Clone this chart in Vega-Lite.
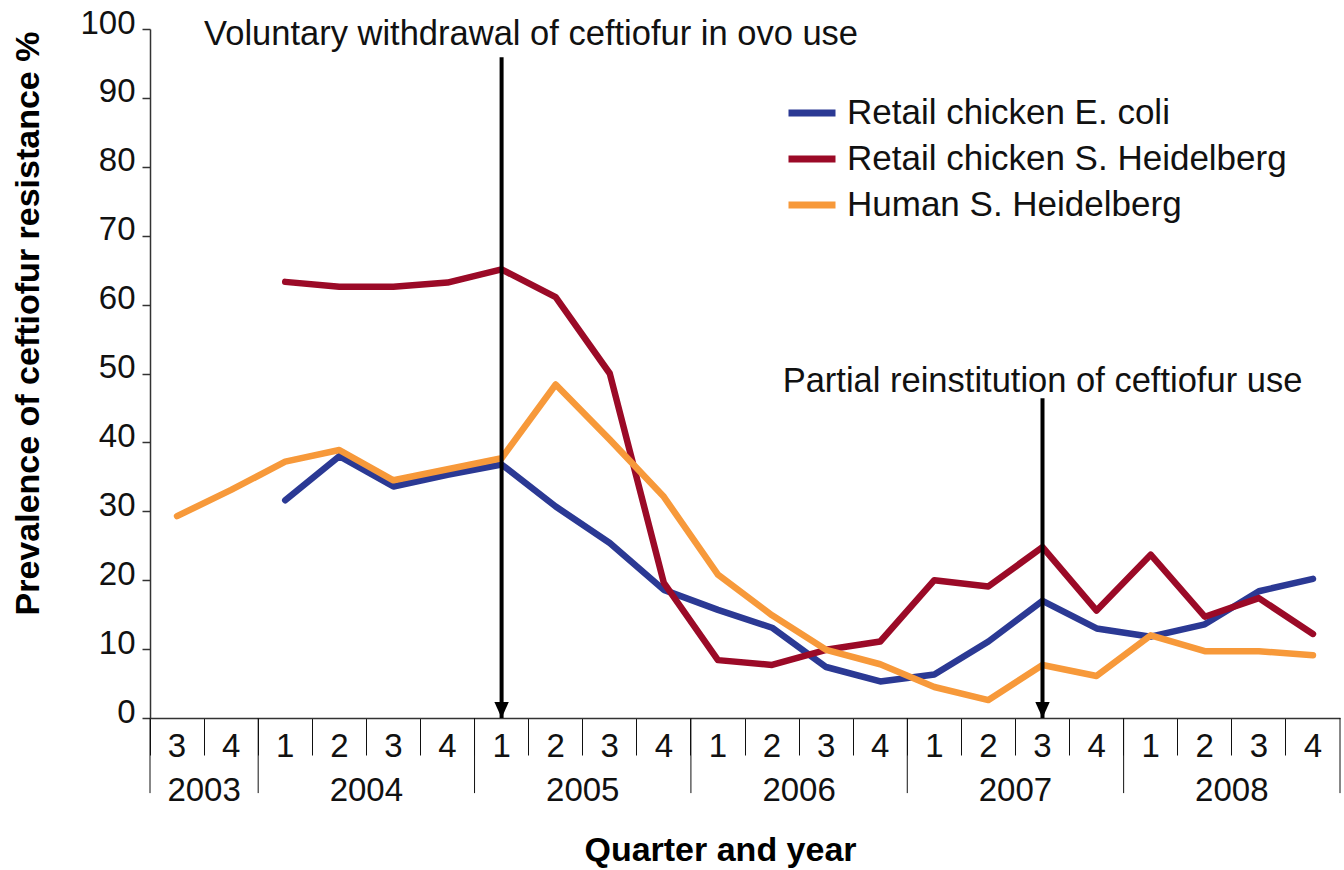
{
  "$schema": "https://vega.github.io/schema/vega-lite/v6.json",
  "width": 1190,
  "height": 689,
  "autosize": {"type": "none"},
  "padding": {"left": 150, "top": 29, "right": 4, "bottom": 152},
  "background": "white",
  "config": {"view": {"stroke": null}, "font": "Liberation Sans", "text": {"font": "Liberation Sans"}},
  "datasets": {
    "series": [
      {"q": "2004-1", "series": "Retail chicken E. coli", "value": 31.6},
      {"q": "2004-2", "series": "Retail chicken E. coli", "value": 38.0},
      {"q": "2004-3", "series": "Retail chicken E. coli", "value": 33.6},
      {"q": "2004-4", "series": "Retail chicken E. coli", "value": 35.3},
      {"q": "2005-1", "series": "Retail chicken E. coli", "value": 36.8},
      {"q": "2005-2", "series": "Retail chicken E. coli", "value": 30.7},
      {"q": "2005-3", "series": "Retail chicken E. coli", "value": 25.4},
      {"q": "2005-4", "series": "Retail chicken E. coli", "value": 18.6},
      {"q": "2006-1", "series": "Retail chicken E. coli", "value": 15.7},
      {"q": "2006-2", "series": "Retail chicken E. coli", "value": 13.1},
      {"q": "2006-3", "series": "Retail chicken E. coli", "value": 7.4},
      {"q": "2006-4", "series": "Retail chicken E. coli", "value": 5.3},
      {"q": "2007-1", "series": "Retail chicken E. coli", "value": 6.3},
      {"q": "2007-2", "series": "Retail chicken E. coli", "value": 11.1},
      {"q": "2007-3", "series": "Retail chicken E. coli", "value": 17.0},
      {"q": "2007-4", "series": "Retail chicken E. coli", "value": 13.0},
      {"q": "2008-1", "series": "Retail chicken E. coli", "value": 11.8},
      {"q": "2008-2", "series": "Retail chicken E. coli", "value": 13.6},
      {"q": "2008-3", "series": "Retail chicken E. coli", "value": 18.4},
      {"q": "2008-4", "series": "Retail chicken E. coli", "value": 20.2},
      {"q": "2004-1", "series": "Retail chicken S. Heidelberg", "value": 63.3},
      {"q": "2004-2", "series": "Retail chicken S. Heidelberg", "value": 62.6},
      {"q": "2004-3", "series": "Retail chicken S. Heidelberg", "value": 62.6},
      {"q": "2004-4", "series": "Retail chicken S. Heidelberg", "value": 63.2},
      {"q": "2005-1", "series": "Retail chicken S. Heidelberg", "value": 65.1},
      {"q": "2005-2", "series": "Retail chicken S. Heidelberg", "value": 61.1},
      {"q": "2005-3", "series": "Retail chicken S. Heidelberg", "value": 50.0},
      {"q": "2005-4", "series": "Retail chicken S. Heidelberg", "value": 19.6},
      {"q": "2006-1", "series": "Retail chicken S. Heidelberg", "value": 8.4},
      {"q": "2006-2", "series": "Retail chicken S. Heidelberg", "value": 7.7},
      {"q": "2006-3", "series": "Retail chicken S. Heidelberg", "value": 9.9},
      {"q": "2006-4", "series": "Retail chicken S. Heidelberg", "value": 11.1},
      {"q": "2007-1", "series": "Retail chicken S. Heidelberg", "value": 20.0},
      {"q": "2007-2", "series": "Retail chicken S. Heidelberg", "value": 19.1},
      {"q": "2007-3", "series": "Retail chicken S. Heidelberg", "value": 24.8},
      {"q": "2007-4", "series": "Retail chicken S. Heidelberg", "value": 15.6},
      {"q": "2008-1", "series": "Retail chicken S. Heidelberg", "value": 23.7},
      {"q": "2008-2", "series": "Retail chicken S. Heidelberg", "value": 14.7},
      {"q": "2008-3", "series": "Retail chicken S. Heidelberg", "value": 17.4},
      {"q": "2008-4", "series": "Retail chicken S. Heidelberg", "value": 12.2},
      {"q": "2003-3", "series": "Human S. Heidelberg", "value": 29.3},
      {"q": "2003-4", "series": "Human S. Heidelberg", "value": 33.1},
      {"q": "2004-1", "series": "Human S. Heidelberg", "value": 37.2},
      {"q": "2004-2", "series": "Human S. Heidelberg", "value": 38.9},
      {"q": "2004-3", "series": "Human S. Heidelberg", "value": 34.5},
      {"q": "2004-4", "series": "Human S. Heidelberg", "value": 36.1},
      {"q": "2005-1", "series": "Human S. Heidelberg", "value": 37.7},
      {"q": "2005-2", "series": "Human S. Heidelberg", "value": 48.4},
      {"q": "2005-3", "series": "Human S. Heidelberg", "value": 40.4},
      {"q": "2005-4", "series": "Human S. Heidelberg", "value": 32.1},
      {"q": "2006-1", "series": "Human S. Heidelberg", "value": 20.8},
      {"q": "2006-2", "series": "Human S. Heidelberg", "value": 14.9},
      {"q": "2006-3", "series": "Human S. Heidelberg", "value": 9.9},
      {"q": "2006-4", "series": "Human S. Heidelberg", "value": 7.8},
      {"q": "2007-1", "series": "Human S. Heidelberg", "value": 4.5},
      {"q": "2007-2", "series": "Human S. Heidelberg", "value": 2.6},
      {"q": "2007-3", "series": "Human S. Heidelberg", "value": 7.7},
      {"q": "2007-4", "series": "Human S. Heidelberg", "value": 6.1},
      {"q": "2008-1", "series": "Human S. Heidelberg", "value": 12.0},
      {"q": "2008-2", "series": "Human S. Heidelberg", "value": 9.7},
      {"q": "2008-3", "series": "Human S. Heidelberg", "value": 9.7},
      {"q": "2008-4", "series": "Human S. Heidelberg", "value": 9.1}
    ],
    "yearLabels": [
      {"q": "2003-4", "year": "2003"},
      {"q": "2004-3", "year": "2004"},
      {"q": "2005-3", "year": "2005"},
      {"q": "2006-3", "year": "2006"},
      {"q": "2007-3", "year": "2007"},
      {"q": "2008-3", "year": "2008"}
    ],
    "yearStarts": [
      {"q": "2003-3"}, {"q": "2004-1"}, {"q": "2005-1"}, {"q": "2006-1"}, {"q": "2007-1"}, {"q": "2008-1"}
    ],
    "yearEnd": [{"q": "2008-4"}],
    "arrows": [
      {"q": "2005-1", "top": 95.9, "bottom": 0},
      {"q": "2007-3", "top": 46.4, "bottom": 0}
    ],
    "note1": [{"q": "2003-4", "value": 99.1, "label": "Voluntary withdrawal of ceftiofur in ovo use"}],
    "note2": [{"q": "2007-3", "value": 48.8, "label": "Partial reinstitution of ceftiofur use"}]
  },
  "layer": [
    {
      "data": {"name": "series"},
      "mark": {"type": "line", "strokeWidth": 6.5, "strokeJoin": "round", "strokeCap": "round"},
      "encoding": {
        "x": {
          "field": "q", "type": "ordinal", "bandPosition": 0.5,
          "scale": {"type": "band", "paddingInner": 0, "paddingOuter": 0, "domain": ["2003-3","2003-4","2004-1","2004-2","2004-3","2004-4","2005-1","2005-2","2005-3","2005-4","2006-1","2006-2","2006-3","2006-4","2007-1","2007-2","2007-3","2007-4","2008-1","2008-2","2008-3","2008-4"]},
          "axis": {
            "title": "Quarter and year",
            "labelExpr": "split(datum.value, '-')[1]",
            "labelAngle": 0,
            "bandPosition": 0,
            "tickSize": 37,
            "tickColor": "#111",
            "tickWidth": 1,
            "labelOffset": 0,
            "labelPadding": -9,
            "labelBaseline": "middle",
            "labelAlign": "center",
            "labelFontSize": 33,
            "labelColor": "#111",
            "labelOverlap": false,
            "domainColor": "#333",
            "domainWidth": 1.5,
            "titleFontSize": 34,
            "titleFontWeight": "bold",
            "titleColor": "#000",
            "titleX": 570,
            "titleY": 132,
            "titleBaseline": "middle",
            "titleAnchor": "middle"
          }
        },
        "y": {
          "field": "value", "type": "quantitative",
          "scale": {"domain": [0, 100], "nice": false, "zero": true},
          "axis": {
            "title": "Prevalence of ceftiofur resistance %",
            "values": [0, 10, 20, 30, 40, 50, 60, 70, 80, 90, 100],
            "grid": false,
            "tickSize": 8,
            "tickColor": "#333",
            "tickWidth": 1.5,
            "domainColor": "#333",
            "domainWidth": 1.5,
            "labelFontSize": 33,
            "labelColor": "#111",
            "labelPadding": 7,
            "labelOffset": -6,
            "labelOverlap": false,
            "titleFontSize": 34,
            "titleFontWeight": "bold",
            "titleColor": "#000",
            "titleX": -122,
            "titleY": 294,
            "titleBaseline": "middle",
            "titleAlign": "center"
          }
        },
        "color": {
          "field": "series", "type": "nominal",
          "scale": {
            "domain": ["Retail chicken E. coli", "Retail chicken S. Heidelberg", "Human S. Heidelberg"],
            "range": ["#2b3994", "#9b0a27", "#f7993a"]
          },
          "legend": {
            "orient": "none",
            "legendX": 635,
            "legendY": 57,
            "title": null,
            "padding": 0,
            "symbolType": "stroke",
            "symbolSize": 2209,
            "symbolStrokeWidth": 7,
            "labelFontSize": 35,
            "labelColor": "#111",
            "labelOffset": 8,
            "labelLimit": 0,
            "rowPadding": 1
          }
        }
      }
    },
    {
      "data": {"name": "arrows"},
      "mark": {"type": "rule", "strokeWidth": 4, "color": "#000"},
      "encoding": {
        "x": {"field": "q", "type": "ordinal", "bandPosition": 0.5, "title": "Quarter and year"},
        "y": {"field": "top", "type": "quantitative", "title": "Prevalence of ceftiofur resistance %"},
        "y2": {"field": "bottom"}
      }
    },
    {
      "data": {"name": "arrows"},
      "mark": {"type": "point", "shape": "M-0.9,-2L0.9,-2L0,0Z", "size": 256, "filled": true, "color": "#000", "opacity": 1, "strokeWidth": 0},
      "encoding": {
        "x": {"field": "q", "type": "ordinal", "bandPosition": 0.5, "title": "Quarter and year"},
        "y": {"field": "bottom", "type": "quantitative", "title": "Prevalence of ceftiofur resistance %"}
      }
    },
    {
      "data": {"name": "yearStarts"},
      "mark": {"type": "rule", "strokeWidth": 1, "color": "#111"},
      "encoding": {
        "x": {"field": "q", "type": "ordinal", "bandPosition": 0, "title": "Quarter and year"},
        "y": {"datum": 0, "type": "quantitative", "title": "Prevalence of ceftiofur resistance %"},
        "y2": {"datum": -10.9}
      }
    },
    {
      "data": {"name": "yearEnd"},
      "mark": {"type": "rule", "strokeWidth": 1, "color": "#111"},
      "encoding": {
        "x": {"field": "q", "type": "ordinal", "bandPosition": 1, "title": "Quarter and year"},
        "y": {"datum": 0, "type": "quantitative", "title": "Prevalence of ceftiofur resistance %"},
        "y2": {"datum": -10.9}
      }
    },
    {
      "data": {"name": "yearLabels"},
      "mark": {"type": "text", "fontSize": 33, "baseline": "middle", "align": "center", "color": "#111"},
      "encoding": {
        "x": {"field": "q", "type": "ordinal", "bandPosition": 0, "title": "Quarter and year"},
        "y": {"datum": -10.6, "type": "quantitative", "title": "Prevalence of ceftiofur resistance %"},
        "text": {"field": "year"}
      }
    },
    {
      "data": {"name": "note1"},
      "mark": {"type": "text", "fontSize": 34.5, "baseline": "middle", "align": "left", "color": "#111"},
      "encoding": {
        "x": {"field": "q", "type": "ordinal", "bandPosition": 0, "title": "Quarter and year"},
        "y": {"field": "value", "type": "quantitative", "title": "Prevalence of ceftiofur resistance %"},
        "text": {"field": "label"}
      }
    },
    {
      "data": {"name": "note2"},
      "mark": {"type": "text", "fontSize": 34.5, "baseline": "middle", "align": "center", "color": "#111"},
      "encoding": {
        "x": {"field": "q", "type": "ordinal", "bandPosition": 0.5, "title": "Quarter and year"},
        "y": {"field": "value", "type": "quantitative", "title": "Prevalence of ceftiofur resistance %"},
        "text": {"field": "label"}
      }
    }
  ]
}
